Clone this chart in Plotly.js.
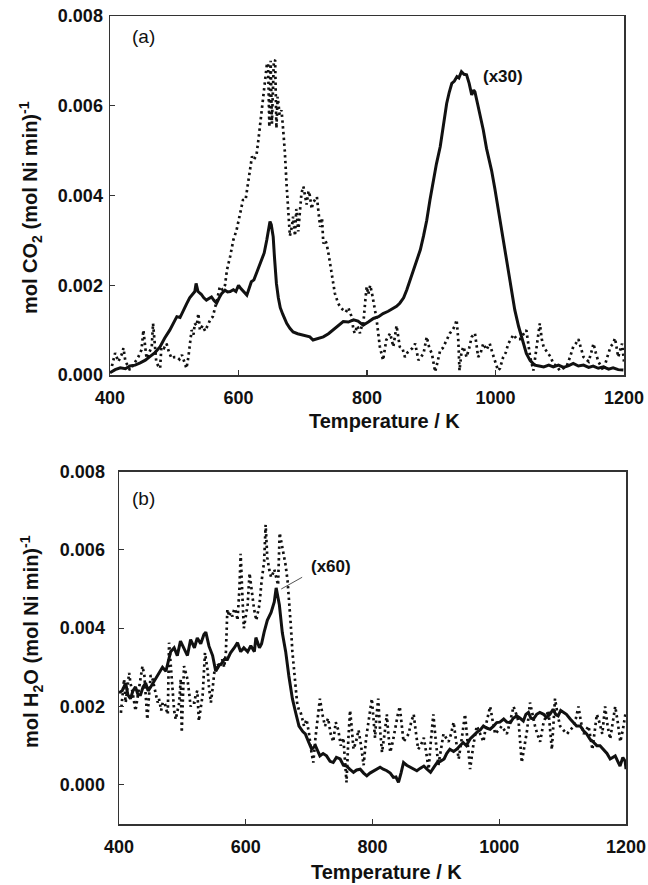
<!DOCTYPE html>
<html>
<head>
<meta charset="utf-8">
<script src="https://cdn.plot.ly/plotly-3.0.1.min.js"></script>
<style>
  html, body { margin: 0; padding: 0; background: #fff; }
  #chart { width: 648px; height: 885px; }
</style>
</head>
<body>
<div id="chart"></div>
<script>
// Temperature axis ticks (K) and rate ticks (mol (mol Ni min)^-1)
const tempTicks = [400, 600, 800, 1000, 1200];
const rateTicks = [0, 0.002, 0.004, 0.006, 0.008];

// (a) CO2 evolution, scaled trace (x30) - solid
const co2SolidT = [400,408,416,424,431,439,447,455,462,470,478,485,493,499,504,509,514,519,524,529,532,534,537,542,546,550,554,558,562,566,570,574,579,583,587,592,596,600,604,608,613,617,620,624,628,632,636,640,644,647,649,651,654,656,659,662,665,669,675,680,685,692,701,711,716,724,732,740,747,755,763,771,779,786,794,802,810,818,825,833,841,846,851,857,862,867,872,877,883,888,893,898,903,908,914,919,924,928,932,936,940,943,947,951,955,959,963,966,968,972,976,981,986,990,994,999,1004,1010,1015,1020,1025,1030,1036,1042,1048,1054,1061,1068,1075,1083,1090,1098,1106,1114,1121,1129,1137,1145,1152,1160,1168,1176,1183,1191,1199];
const co2SolidV = [0.00005,0.00012,0.00016,0.00014,0.00020,0.00022,0.00027,0.00033,0.00041,0.00050,0.00063,0.00082,0.00100,0.00118,0.00130,0.00128,0.00145,0.00158,0.00172,0.00180,0.00186,0.00204,0.00186,0.00180,0.00172,0.00167,0.00170,0.00174,0.00166,0.00160,0.00172,0.00182,0.00189,0.00185,0.00186,0.00190,0.00186,0.00200,0.00192,0.00186,0.00178,0.00195,0.00208,0.00212,0.00227,0.00238,0.00256,0.00272,0.00301,0.00325,0.00342,0.00335,0.00308,0.00262,0.00204,0.00172,0.00150,0.00135,0.00115,0.00104,0.00096,0.00092,0.00089,0.00085,0.00078,0.00082,0.00085,0.00092,0.00100,0.00108,0.00119,0.00118,0.00123,0.00120,0.00111,0.00118,0.00126,0.00130,0.00137,0.00142,0.00149,0.00153,0.00160,0.00172,0.00190,0.00212,0.00234,0.00256,0.00279,0.00310,0.00345,0.00390,0.00435,0.00470,0.00509,0.00560,0.00605,0.00630,0.00650,0.00655,0.00665,0.00662,0.00676,0.00670,0.00669,0.00650,0.00624,0.00635,0.00631,0.00605,0.00580,0.00546,0.00505,0.00480,0.00455,0.00415,0.00370,0.00320,0.00279,0.00230,0.00183,0.00145,0.00108,0.00075,0.00048,0.00032,0.00022,0.00020,0.00018,0.00022,0.00018,0.00022,0.00017,0.00021,0.00026,0.00020,0.00022,0.00017,0.00020,0.00015,0.00018,0.00013,0.00016,0.00012,0.00011];

// (a) CO2 evolution, raw trace - dotted
const co2DotT = [403,408,413,418,421,424,428,431,435,439,444,449,452,455,457,461,465,467,469,472,475,478,480,484,488,492,496,500,504,508,512,516,519,522,524,527,530,532,535,537.5,540,544,548,552,556,560,563,567,571,575,579,582,587,592,597,602,607,611,615,618,621,624,628,631,636,641,644,646,648,650,652,655,657,659,661,664,667,670,672,675,677.5,680,683,685,688,690,693,696,698,701,704,706,709,711,714,716,719,722,724,727,730,732,735,737,740,745,750,755,759,763,767,771,774,776,779,781,785,789,792,794,797,799.5,802,805,808,810,813,815,818,820,825,830,836,841,846,851,855,859,863,867,871,875,880,884,888,893,897,901,906,910,914,918,921.6,925,929,933,937,939.5,942,944,947,950,955,959,963,968,973,977,981,986,991,995,999,1004,1007,1012,1016,1020,1024,1028,1033,1038,1043,1048,1051,1054,1059,1064,1069,1072,1075,1082,1086,1090,1095,1100,1106,1111,1116,1121,1125,1129,1133,1137,1141,1145,1149,1152.5,1156,1160,1164,1168,1174,1179,1183,1186,1191,1195,1197,1200];
const co2DotV = [0.0002,0.00049,0.0003,0.00045,0.0006,0.0003,0.0002,0.00011,0.0002,0.0003,0.0004,0.00056,0.001,0.0006,0.00037,0.0005,0.00063,0.00115,0.0008,0.0003,0.0002,0.00015,0.00063,0.0006,0.0007,0.0005,0.00037,0.0004,0.0004,0.00035,0.00045,0.0003,0.00015,0.0004,0.00063,0.001,0.0009,0.00115,0.0011,0.00137,0.001,0.0011,0.00098,0.0011,0.00123,0.0013,0.00145,0.0017,0.00197,0.0019,0.002,0.00234,0.00264,0.00301,0.00323,0.00353,0.0039,0.0039,0.00427,0.0045,0.00487,0.0048,0.0049,0.00524,0.0059,0.0065,0.0069,0.00695,0.00553,0.007,0.0056,0.0070,0.00702,0.0055,0.0062,0.0058,0.0059,0.00538,0.0050,0.0042,0.0036,0.0031,0.0033,0.00353,0.0031,0.0037,0.0032,0.0038,0.00405,0.0042,0.0039,0.0038,0.0041,0.004,0.0037,0.00385,0.0039,0.00397,0.0037,0.0033,0.0035,0.00293,0.003,0.00293,0.00271,0.00227,0.00182,0.0016,0.0015,0.00145,0.0014,0.0015,0.0014,0.0013,0.001,0.00093,0.0011,0.00093,0.0011,0.0011,0.0016,0.00197,0.0018,0.002,0.0018,0.0016,0.0014,0.00123,0.0009,0.00063,0.00033,0.00078,0.00093,0.00063,0.0011,0.00063,0.0006,0.0004,0.0005,0.00056,0.0006,0.0007,0.00033,0.0004,0.00048,0.00085,0.0006,0.00048,0.00007,0.0003,0.00056,0.0006,0.0007,0.0008,0.00093,0.001,0.0011,0.00123,0.0008,0.0001,0.0005,0.00063,0.0004,0.0006,0.00085,0.00093,0.0004,0.0005,0.0007,0.00056,0.0007,0.0005,0.00033,0.0001,0.00015,0.0004,0.0005,0.0007,0.0008,0.0009,0.0008,0.0008,0.0009,0.001,0.0007,0.0004,0.0001,0.00062,0.00115,0.0008,0.00062,0.00048,0.0004,0.00025,0.0002,0.0001,0.00015,0.0002,0.0004,0.00063,0.0007,0.0008,0.0006,0.0004,0.00035,0.0003,0.0005,0.0007,0.0005,0.0003,0.0002,0.0001,0.0004,0.00063,0.0007,0.00082,0.0004,0.0006,0.0007,0.0003];

// (b) H2O evolution, scaled trace (x60) - solid
const h2oSolidT = [400,405,410.5,414,418,422,426,430,434,438,442,446,450,454,458,463,468.6,474,476,478,481.5,487,492,497,502.5,508,513,519,523.5,529,534,537,542,547.7,552.6,558,562,566,571,576,582,587,592,597,603,608,613.6,616,621.6,625,629,634,640,645,648,650.5,653,657.7,663,668,673.6,678.8,684,690,694,699,704,710,717,722,727.5,733,738,743,749,754,759,764,770,775,780.6,786,791,796,801.6,807,812,817,822.6,828,833,837,841,845,849,854,859.6,865,870,875,881,886,891.6,897,902,907,913,917,922,928,933,938,943,948,954,959,964.5,970,975,980,985.6,991,996,1001,1007,1012,1017.6,1022,1027.6,1033,1038,1042,1046,1050,1054,1059,1064,1070,1075,1080,1085,1089,1093,1097,1101,1106,1112,1117,1122,1128,1133,1138,1143,1148,1154,1159,1164.5,1170,1175,1179,1183,1187,1190.6,1195,1198.7,1200];
const h2oSolidV = [0.00235,0.0024,0.0026,0.0023,0.0022,0.0024,0.0025,0.0023,0.0023,0.0025,0.0026,0.0024,0.0025,0.0026,0.0027,0.00286,0.0030,0.0029,0.00303,0.0031,0.0034,0.0035,0.0033,0.00367,0.0035,0.0033,0.00371,0.0035,0.00375,0.0036,0.00384,0.0039,0.00354,0.0033,0.0029,0.00305,0.0031,0.0032,0.0032,0.00337,0.0035,0.00363,0.0034,0.0035,0.0034,0.00355,0.0034,0.00376,0.0035,0.0036,0.0039,0.0042,0.0044,0.00467,0.00503,0.0048,0.0046,0.00388,0.0034,0.00278,0.0022,0.00184,0.0015,0.00136,0.0013,0.0011,0.00091,0.0010,0.00074,0.0008,0.00074,0.0006,0.00057,0.0007,0.00066,0.0005,0.00048,0.0004,0.00032,0.00038,0.0004,0.0003,0.00023,0.0003,0.00036,0.0004,0.00045,0.0004,0.00036,0.0003,0.00019,0.0002,0.00006,0.0003,0.00057,0.0005,0.00045,0.0004,0.00036,0.00042,0.00048,0.0004,0.00032,0.00045,0.00057,0.0006,0.00066,0.0008,0.00091,0.00085,0.00091,0.001,0.00108,0.001,0.00117,0.00125,0.00134,0.0014,0.0015,0.00145,0.00142,0.0015,0.00159,0.0016,0.00168,0.0016,0.00159,0.0017,0.00176,0.0017,0.00163,0.0018,0.00185,0.0017,0.00168,0.0018,0.00185,0.0018,0.00172,0.0018,0.00193,0.0018,0.00176,0.0019,0.00185,0.0018,0.00168,0.0016,0.0015,0.0015,0.00138,0.0013,0.00117,0.0011,0.001,0.001,0.00091,0.0008,0.00066,0.0007,0.00074,0.0006,0.00048,0.0007,0.0006,0.0004];

// (b) H2O evolution, raw trace - dotted
const h2oDotT = [403,406,408,410.5,413,416,418,421,424,426,429,431.6,434,437,440,442,444.7,447,450,453,455.5,458,461,463,466.6,469,472,475,477,479,482,484.7,487,489.5,492,495,497.4,499,502.6,505,508,511,513,516,519,521,523.6,526,529,532,535.7,538,540,542,545,548,550.6,555,559,563,566,568.7,571,574,576,579,582,585,587,590,592,595,597,600,603,606,609.7,613,616.6,619,621.6,625,629,631.4,634,637,640,643,645,648,651,653.5,656,658,661,663,666,668,671,673.6,677.7,681,684,686.6,689,692,696,700,703,706.6,710,714,717,721,725,730,734,738,742,746,750,754,757,759,762,764.6,767,770,774,778,782,786,790,794,799,801,804,806,809,812,815,819,822.6,825,828,832,836,840,843,846,849,853,857,861,865,868,872,876,881,885,888.6,892,896,900,904,908,912,916,920,924,928,932,936,941,946,950,954,959,964.5,970,975,980,985.6,990,993.5,999,1004,1008,1012,1017,1022.6,1027,1030.6,1035.5,1040,1044,1048.5,1052,1056.5,1060,1064.5,1070,1077.6,1083,1088,1092,1096,1101,1107,1112,1117.5,1121,1125,1129,1133,1137,1141,1147,1150,1154,1158,1162.6,1167,1171,1175,1179,1183,1187,1191,1195,1199];
const h2oDotV = [0.00184,0.0025,0.0027,0.0021,0.0024,0.00286,0.0026,0.0024,0.0021,0.00189,0.0022,0.0025,0.0028,0.00303,0.0028,0.0024,0.00167,0.0022,0.0028,0.0027,0.0025,0.0023,0.0021,0.0022,0.0019,0.0021,0.0021,0.0019,0.0018,0.00363,0.0029,0.0023,0.0019,0.00167,0.0019,0.0021,0.0027,0.00134,0.00303,0.0029,0.0027,0.0023,0.0020,0.0021,0.0021,0.0023,0.0024,0.00163,0.002,0.0023,0.00337,0.0031,0.0029,0.0025,0.0021,0.0025,0.0029,0.0031,0.0030,0.0032,0.0030,0.0034,0.00448,0.0043,0.0044,0.0043,0.0045,0.0044,0.0042,0.0050,0.0059,0.0047,0.004,0.0043,0.0046,0.0054,0.0049,0.0045,0.0042,0.0044,0.0046,0.0052,0.0057,0.00664,0.0058,0.0055,0.0053,0.0054,0.0055,0.0053,0.0051,0.00643,0.0062,0.006,0.0058,0.0056,0.0052,0.0048,0.0041,0.0034,0.0027,0.0021,0.0019,0.00185,0.0017,0.0015,0.00167,0.0013,0.0009,0.00057,0.0012,0.0018,0.0022,0.0018,0.0015,0.0017,0.0013,0.0011,0.0016,0.0014,0.0010,0.0012,0.0006,0.00006,0.0012,0.0019,0.0015,0.00091,0.0011,0.0014,0.001,0.0005,0.0012,0.0017,0.0022,0.0018,0.0012,0.0017,0.0022,0.0014,0.00083,0.0013,0.0018,0.0013,0.00083,0.0011,0.0015,0.0018,0.002,0.0015,0.0011,0.0012,0.0013,0.0016,0.0018,0.0014,0.00091,0.001,0.0012,0.0008,0.0004,0.0011,0.0018,0.0011,0.0005,0.0009,0.0013,0.0012,0.0011,0.0013,0.0016,0.0011,0.00066,0.0012,0.0018,0.0011,0.0004,0.0010,0.0015,0.0013,0.0011,0.0016,0.002,0.0016,0.0013,0.0014,0.0015,0.0014,0.0013,0.0016,0.002,0.0018,0.0016,0.00057,0.001,0.0014,0.0021,0.0018,0.0015,0.0013,0.0011,0.0016,0.0019,0.0009,0.0022,0.0018,0.0015,0.0014,0.0013,0.0014,0.0015,0.0017,0.002,0.0016,0.0013,0.0014,0.0015,0.0009,0.0013,0.0018,0.0016,0.0013,0.002,0.0015,0.00117,0.0016,0.002,0.0016,0.0011,0.0014,0.0018];

const FONT = 'Liberation Sans, Arial, Helvetica, sans-serif';
const INK = '#111';
const FRAME = '#333';

const solidLine = { color: INK, width: 3 };
const dottedLine = { color: INK, width: 2.7, dash: '2.4px,3.4px' };

const traces = [
  { x: co2DotT, y: co2DotV, xaxis: 'x', yaxis: 'y', type: 'scatter', mode: 'lines', line: dottedLine, hoverinfo: 'skip' },
  { x: co2SolidT, y: co2SolidV, xaxis: 'x', yaxis: 'y', type: 'scatter', mode: 'lines', line: solidLine, hoverinfo: 'skip' },
  { x: h2oDotT, y: h2oDotV, xaxis: 'x2', yaxis: 'y2', type: 'scatter', mode: 'lines', line: dottedLine, hoverinfo: 'skip' },
  { x: h2oSolidT, y: h2oSolidV, xaxis: 'x2', yaxis: 'y2', type: 'scatter', mode: 'lines', line: solidLine, hoverinfo: 'skip' }
];

const W = 648, H = 885;
const px = v => v / W;
const py = v => 1 - v / H;
const bold = s => '<b>' + s + '</b>';

const tickFont = { family: FONT, size: 18, color: INK };

function xAxis(domain, anchor) {
  return {
    domain: domain, anchor: anchor, range: [400, 1200],
    tickvals: tempTicks, ticktext: tempTicks.map(t => bold(String(t))),
    ticks: 'inside', ticklen: 5, tickwidth: 1.2, tickcolor: FRAME,
    showline: true, mirror: true, linecolor: FRAME, linewidth: 1.5,
    showgrid: false, zeroline: false, ticklabelstandoff: 6,
    tickfont: tickFont
  };
}
function yAxis(domain, anchor, range, standoff) {
  return {
    domain: domain, anchor: anchor, range: range,
    tickvals: rateTicks, ticktext: rateTicks.map(v => bold(v.toFixed(3))),
    ticks: 'inside', ticklen: 5, tickwidth: 1.2, tickcolor: FRAME,
    showline: true, mirror: true, linecolor: FRAME, linewidth: 1.5,
    showgrid: false, zeroline: false, ticklabelstandoff: standoff,
    tickfont: tickFont
  };
}

const boldFont = s => ({ family: FONT, size: s, color: INK, weight: 'bold' });
const note = (x, y, text, font, extra) => Object.assign({
  xref: 'paper', yref: 'paper', x: px(x), y: py(y), text: text,
  showarrow: false, xanchor: 'center', yanchor: 'middle', font: font
}, extra || {});

const layout = {
  width: W, height: H,
  margin: { l: 0, r: 0, t: 0, b: 0 },
  paper_bgcolor: '#fff', plot_bgcolor: '#fff',
  showlegend: false,
  xaxis: xAxis([px(110), px(624)], 'y'),
  yaxis: yAxis([py(375), py(16)], 'x', [0, 0.008], 2),
  xaxis2: xAxis([px(119), px(626)], 'y2'),
  yaxis2: yAxis([py(824), py(471.5)], 'x2', [-0.001, 0.008], 9),
  annotations: [
    note(143, 37, '(a)', { family: FONT, size: 19, color: INK }),
    note(143, 499, '(b)', { family: FONT, size: 19, color: INK }),
    note(503, 76, '(x30)', boldFont(17)),
    note(331, 566, '(x60)', boldFont(17)),
    note(384, 421, 'Temperature / K', boldFont(20)),
    note(386, 872, 'Temperature / K', boldFont(20)),
    note(30, 208, 'mol CO<sub>2</sub> (mol Ni min)<sup>-1</sup>', boldFont(20), { textangle: -90 }),
    note(31, 642, 'mol H<sub>2</sub>O (mol Ni min)<sup>-1</sup>', boldFont(20), { textangle: -90 })
  ],
  shapes: [
    // leader from the (x60) label to the H2O peak
    { type: 'line', xref: 'x2', yref: 'y2', x0: 656, y0: 0.0050, x1: 689, y1: 0.0053,
      line: { color: '#555', width: 1 } }
  ]
};

Plotly.newPlot('chart', traces, layout, { staticPlot: true, displayModeBar: false });
</script>
</body>
</html>
